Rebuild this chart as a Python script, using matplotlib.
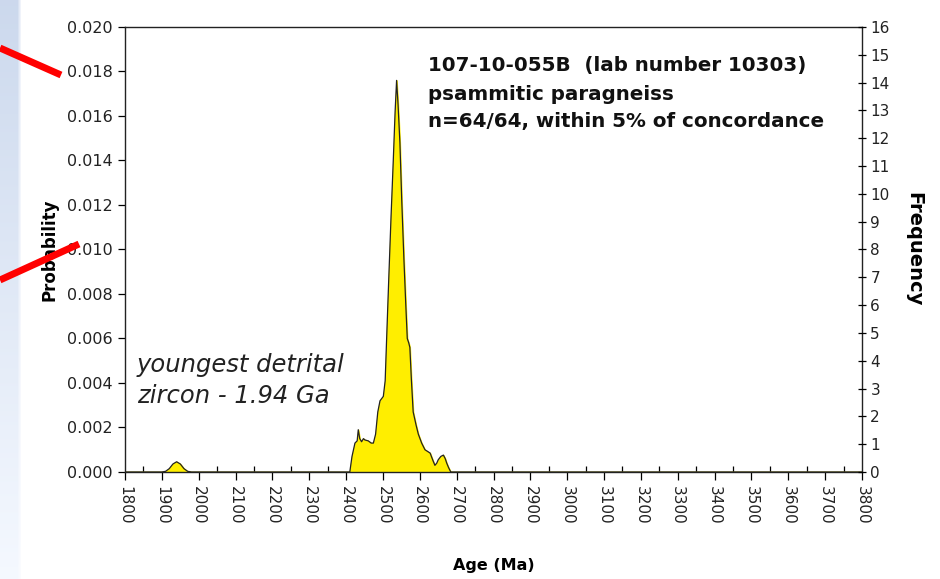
import numpy as np
import matplotlib
matplotlib.use("Agg")
import matplotlib.pyplot as plt
from matplotlib.lines import Line2D

plt.rcParams['font.family'] = ['DejaVu Sans']

# ---- data ----
ages = [1800, 1900, 1910, 1920, 1930, 1940, 1950, 1960, 1970, 1980,
        2410, 2416, 2424, 2430, 2433, 2437, 2442, 2447, 2451, 2460, 2468, 2474,
        2480, 2486, 2492, 2501, 2506, 2510, 2516, 2522, 2528, 2533, 2537, 2541,
        2546, 2551, 2557, 2562, 2566, 2570, 2573, 2577, 2582, 2590, 2596, 2605,
        2614, 2628, 2636, 2641, 2646, 2650, 2657, 2664, 2669, 2673, 2678, 2684,
        3800]
prob = [0.0, 0.0, 0.00003, 0.00015, 0.00036, 0.00046, 0.00036, 0.00015, 0.00003, 0.0,
        0.0, 0.0007, 0.0013, 0.0014, 0.0019, 0.0015, 0.00136, 0.0015, 0.00144, 0.0014, 0.0013, 0.0013,
        0.0017, 0.0027, 0.0032, 0.0034, 0.0041, 0.0060, 0.0088, 0.0115, 0.0140, 0.0162, 0.0176, 0.0165,
        0.0148, 0.0122, 0.0095, 0.0075, 0.0060, 0.0058, 0.0056, 0.0042, 0.0027, 0.0021, 0.0017, 0.0013,
        0.0010, 0.00085, 0.0005, 0.0003, 0.0004, 0.00055, 0.0007, 0.00076, 0.0006, 0.0004, 0.0002, 0.0,
        0.0]
x_ticks = list(range(1800, 3801, 100))
y_ticks = [0.000, 0.002, 0.004, 0.006, 0.008, 0.010, 0.012, 0.014, 0.016, 0.018, 0.020]
freq_ticks = list(range(0, 17))

title_lines = ["107-10-055B  (lab number 10303)", "psammitic paragneiss",
               "n=64/64, within 5% of concordance"]
note_lines = ["youngest detrital", "zircon - 1.94 Ga"]

fig = plt.figure(figsize=(9.4, 5.79), dpi=100)

# left blue gradient strip
bg = fig.add_axes([0, 0, 1, 1], zorder=-10)
grad = np.linspace(0, 1, 256)[:, None]
top = np.array([0.80, 0.85, 0.93])
bot = np.array([0.96, 0.975, 1.0])
img = np.ones((256, 940, 3))
for j in range(940):
    col = top * (1 - grad) + bot * grad
    if j < 17:
        img[:, j, :] = col
    elif j < 21:
        w = (j - 17) / 4.0
        img[:, j, :] = col * (1 - w) + np.array([0.99, 0.99, 1.0]) * w
    else:
        img[:, j, :] = np.array([1.0, 1.0, 1.0])
bg.imshow(img, aspect='auto', extent=[0, 1, 0, 1], origin='upper')
bg.set_axis_off()

ax = fig.add_axes([0.133, 0.1848, 0.784, 0.7686])
ax.set_facecolor('none')
ax.fill_between(ages, prob, 0, color='#FFEE00', zorder=2)
ax.plot(ages, prob, color='#222222', lw=0.9, zorder=3)
ax.set_xlim(1800, 3800)
ax.set_ylim(0, 0.020)
ax.set_xticks(x_ticks)
ax.set_xticklabels([str(t) for t in x_ticks], rotation=270, fontsize=11, color='#222222')
ax.set_xticks(np.arange(1850, 3800, 100), minor=True)
ax.set_yticks(y_ticks)
ax.set_yticklabels([f"{v:.3f}" for v in y_ticks], fontsize=11.5, color='#222222')
ax.tick_params(axis='x', which='major', direction='out', length=6, width=0.9, pad=4)
ax.tick_params(axis='x', which='minor', direction='in', length=4, width=0.9)
ax.tick_params(axis='y', direction='out', length=5, width=0.9, pad=4)
for s in ax.spines.values():
    s.set_linewidth(1.0)
    s.set_color('#222222')
ax.set_xlabel("Age (Ma)", fontsize=11.5, fontweight='bold', labelpad=24)
ax.set_ylabel("Probability", fontsize=12, fontweight='bold', labelpad=6)

ax2 = ax.twinx()
ax2.set_ylim(0, 16)
ax2.set_yticks(freq_ticks)
ax2.set_yticklabels([str(t) for t in freq_ticks], fontsize=11, color='#222222')
ax2.tick_params(axis='y', direction='inout', length=6, width=0.9, pad=3)
ax2.set_ylabel("Frequency", fontsize=14, fontweight='bold', rotation=270, labelpad=24)
for s in ax2.spines.values():
    s.set_visible(False)

# annotations
for txt, yb in zip(title_lines, [71, 100, 127]):
    fig.text(428/940, 1 - yb/579, txt, fontsize=14.3, fontweight='bold', va='baseline',
             ha='left', color='#111111')
for txt, yb in zip(note_lines, [372, 403]):
    fig.text(137/940, 1 - yb/579, txt, fontsize=17.5, style='italic', va='baseline',
             ha='left', color='#222222')

# red pointer lines (overlay)
fig.add_artist(Line2D([0/940, 61/940], [1 - 48/579, 1 - 75/579], color='#FF0000', lw=5,
                      solid_capstyle='butt', zorder=20))
fig.add_artist(Line2D([0/940, 79/940], [1 - 280/579, 1 - 244/579], color='#FF0000', lw=5,
                      solid_capstyle='butt', zorder=20))

fig.savefig("out.png", dpi=100)
